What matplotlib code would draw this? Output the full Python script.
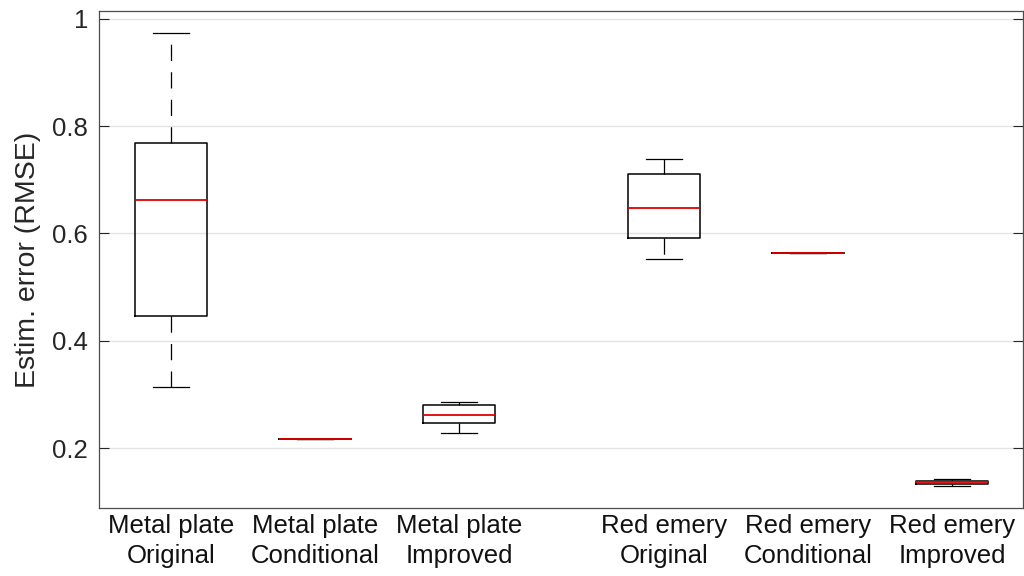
import numpy as np
import matplotlib
matplotlib.use("Agg")
import matplotlib.pyplot as plt

plt.rcParams['font.family'] = ['Liberation Sans', 'DejaVu Sans']

# RMSE summary per surface / method
labels = ['Metal plate\nOriginal', 'Metal plate\nConditional', 'Metal plate\nImproved',
          'Red emery\nOriginal', 'Red emery\nConditional', 'Red emery\nImproved']
positions = [1, 2, 3, 4.42, 5.42, 6.42]
whislo = [0.314, 0.217, 0.228, 0.553, 0.563, 0.1286]
q1 = [0.447, 0.217, 0.247, 0.5925, 0.563, 0.1335]
med = [0.663, 0.217, 0.262, 0.648, 0.563, 0.136]
q3 = [0.769, 0.217, 0.281, 0.710, 0.563, 0.139]
whishi = [0.974, 0.217, 0.285, 0.739, 0.563, 0.1428]

stats = []
for i in range(len(labels)):
    stats.append({'label': labels[i], 'whislo': whislo[i], 'q1': q1[i], 'med': med[i],
                  'q3': q3[i], 'whishi': whishi[i], 'fliers': []})

fig = plt.figure(figsize=(10.24, 5.76), dpi=100)
ax = fig.add_axes([0.0967, 0.1175, 0.902, 0.8635])

ax.bxp(stats, positions=positions, widths=0.5, showfliers=False,
       boxprops=dict(color='black', linewidth=1.1),
       whiskerprops=dict(color='black', linewidth=0.9, linestyle=(0, (13, 9))),
       capprops=dict(color='black', linewidth=0.9),
       medianprops=dict(color='#e00000', linewidth=1.3),
       capwidths=0.25)

ax.set_xlim(0.5, 6.91)
ax.set_ylim(0.0876, 1.0149)
ax.set_yticks([0.2, 0.4, 0.6, 0.8, 1.0])
ax.set_yticklabels(['0.2', '0.4', '0.6', '0.8', '1'])
ax.yaxis.grid(True, color='#e3e3e3', linewidth=1.0)
ax.set_axisbelow(True)

ax.tick_params(axis='y', direction='in', length=7, width=0.8, right=True,
               labelsize=18.5, labelcolor='#262626', color='#262626', pad=8)
ax.tick_params(axis='x', length=0, labelsize=18.5, labelcolor='#111111', pad=4)
for lab in ax.get_xticklabels():
    lab.set_linespacing(1.3)

for s in ax.spines.values():
    s.set_color('#4d4d4d')
    s.set_linewidth(0.9)

ax.set_ylabel('Estim. error (RMSE)', fontsize=20.5, color='#262626', labelpad=8)

fig.savefig('out.png', dpi=100)
